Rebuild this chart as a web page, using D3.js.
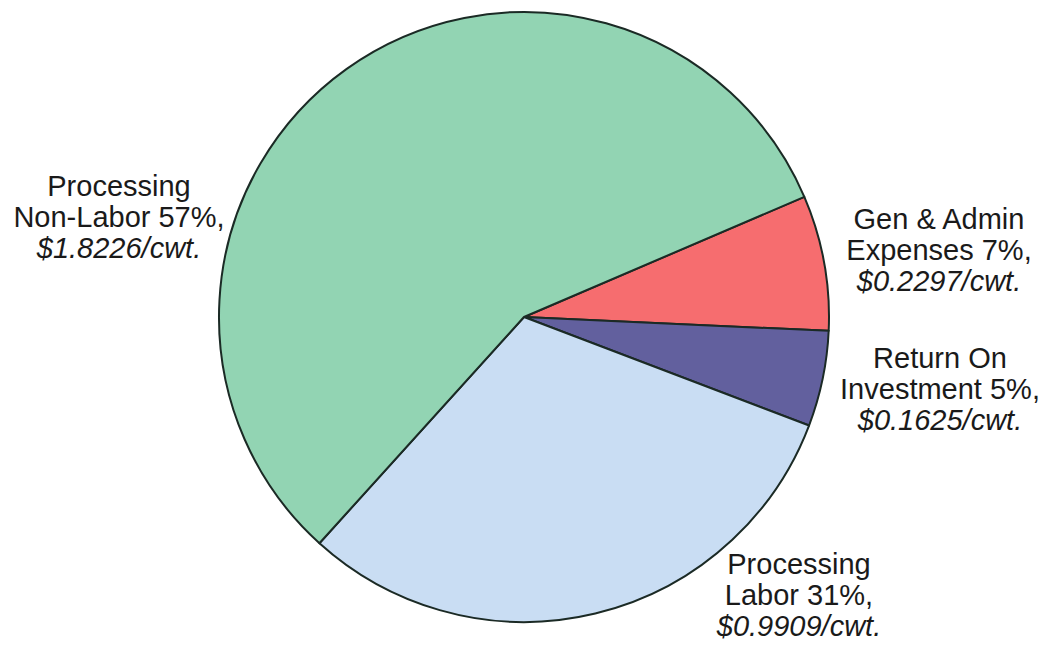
<!DOCTYPE html>
<html>
<head>
<meta charset="utf-8">
<script src="https://cdn.jsdelivr.net/npm/d3@7"></script>
<style>
  html, body { margin: 0; padding: 0; background: #ffffff; }
  svg { display: block; }
  text { font-family: "Liberation Sans", Arial, Helvetica, sans-serif; fill: #1a1a1a; }
</style>
</head>
<body>
<svg id="chart" width="1045" height="648"></svg>
<script>
// ---- data ----
const categories = ["Gen & Admin Expenses", "Return On Investment", "Processing Labor", "Processing Non-Labor"];
const values = [0.2297, 0.1625, 0.9909, 1.8226];          // $/cwt
const percentLabels = ["7%", "5%", "31%", "57%"];
const labelLines = [
  ["Gen & Admin", "Expenses 7%,", "$0.2297/cwt."],
  ["Return On", "Investment 5%,", "$0.1625/cwt."],
  ["Processing", "Labor 31%,", "$0.9909/cwt."],
  ["Processing", "Non-Labor 57%,", "$1.8226/cwt."]
];
const colors = ["#f66d6f", "#62609e", "#c9ddf3", "#92d4b3"];

// ---- layout ----
const W = 1045, H = 648;
const cx = 524, cy = 317, R = 305;
const startDeg = 66.8;
const labelAnchors = [ // x center, first baseline
  [939, 229],
  [940, 368],
  [799, 574],
  [119, 196]
];
const lineH = 31;
const fontSize = 29;

const svg = d3.select("#chart");
const g = svg.append("g").attr("transform", `translate(${cx},${cy})`);

const pie = d3.pie()
  .sort(null)
  .value(d => d)
  .startAngle(startDeg * Math.PI / 180)
  .endAngle(startDeg * Math.PI / 180 + 2 * Math.PI);

const arc = d3.arc().innerRadius(0).outerRadius(R);

const colorScale = d3.scaleOrdinal().domain(categories).range(colors);

const arcs = pie(values);
g.selectAll("path.slice")
  .data(arcs)
  .join("path")
  .attr("class", "slice")
  .attr("d", arc)
  .attr("fill", (d, i) => colorScale(categories[i]))
  .attr("stroke", "#1b2a25")
  .attr("stroke-width", 2)
  .attr("stroke-linejoin", "round");

const labels = svg.selectAll("g.label")
  .data(categories)
  .join("g")
  .attr("class", "label")
  .attr("transform", (d, i) => `translate(${labelAnchors[i][0]},${labelAnchors[i][1]})`);

labels.each(function(d, i) {
  const t = d3.select(this).append("text")
    .attr("text-anchor", "middle")
    .style("font-size", fontSize + "px");
  labelLines[i].forEach((ln, k) => {
    t.append("tspan")
      .attr("x", 0)
      .attr("y", k * lineH)
      .style("font-style", k === 2 ? "italic" : "normal")
      .text(ln);
  });
});
</script>
</body>
</html>
